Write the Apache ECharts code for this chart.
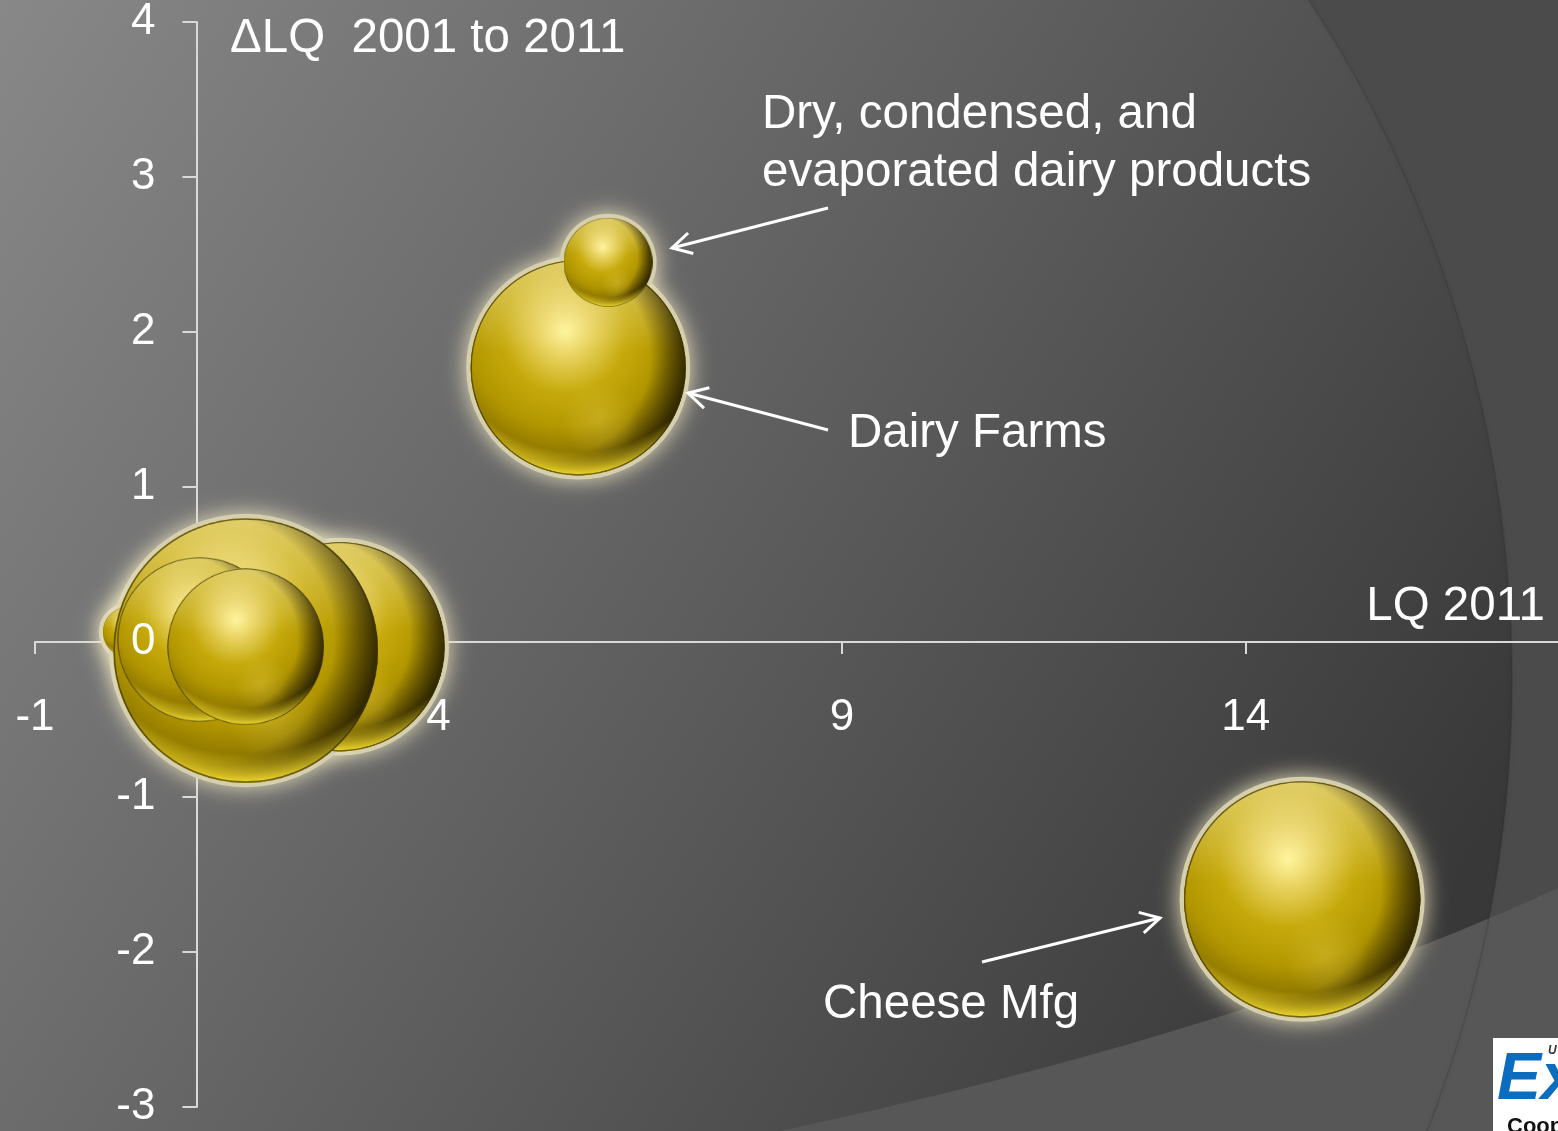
<!DOCTYPE html>
<html>
<head>
<meta charset="utf-8">
<script src="https://cdn.jsdelivr.net/npm/echarts@6/dist/echarts.min.js"></script>
<style>
html,body{margin:0;padding:0;background:#5a5a5a;overflow:hidden;}
#chart{width:1558px;height:1131px;}
</style>
</head>
<body>
<div id="chart"></div>
<script>
// ---------------- data ----------------
const industries = [
  'Dairy industry 1', 'Dairy industry 2', 'Dairy industry 3', 'Dairy industry 4',
  'Dairy industry 5', 'Dairy Farms', 'Dry, condensed, and evaporated dairy products', 'Cheese Mfg'
];
const lq2011     = [0.15, 2.78, 1.61, 1.04, 1.61, 5.73, 6.10, 14.70];
const deltaLQ    = [0.065, -0.03, -0.055, 0.016, -0.03, 1.77, 2.45, -1.66];
const bubbleSize = [625, 11000, 17600, 6800, 6150, 11650, 1980, 14050];
const xTickValues = [-1, 4, 9, 14, 19];
const yTickValues = [-3, -2, -1, 0, 1, 2, 3, 4];
const xAxisTitle = 'LQ 2011';
const yAxisTitle = 'ΔLQ  2001 to 2011';
const noteDry = 'Dry, condensed, and\nevaporated dairy products';
const noteDairy = 'Dairy Farms';
const noteCheese = 'Cheese Mfg';

// ---------------- layout / style ----------------
const W = 1558, H = 1131;
const FONT = '"Liberation Sans", Arial, Helvetica, sans-serif';
const GRID = { left: 35, top: 22, width: 1614.2, height: 1085 };
const AXIS_COLOR = '#d9d9d9';
const yAxisCross = 1; // vertical axis crosses the LQ axis at 1
const NOTE_FONT = '47.5px ' + FONT;

const xMin = xTickValues[0], xMax = xTickValues[xTickValues.length - 1];
const xInt = xTickValues[1] - xTickValues[0];
const yMin = yTickValues[0], yMax = yTickValues[yTickValues.length - 1];
const yInt = yTickValues[1] - yTickValues[0];
const pxPerX = GRID.width / (xMax - xMin);
const yAxisOffset = -(yAxisCross - xMin) * pxPerX;
const zeroFromBottom = (0 - yMin) / (yMax - yMin) * GRID.height;

const seriesData = lq2011.map((x, i) => ({ name: industries[i], value: [x, deltaLQ[i], bubbleSize[i]] }));
const sizeOf = v => Math.sqrt(v[2]) * 2;

// sphere image (styling only)
function makeSphere(S) {
  const c = document.createElement('canvas');
  c.width = c.height = S;
  const g = c.getContext('2d');
  const r = S / 2;
  g.save();
  g.beginPath(); g.arc(r, r, r - 0.5, 0, Math.PI * 2); g.clip();
  let gr = g.createRadialGradient(S * 0.44, S * 0.33, 0, S * 0.44, S * 0.33, S * 0.64);
  gr.addColorStop(0, '#fff59a');
  gr.addColorStop(0.18, '#ead462');
  gr.addColorStop(0.45, '#c6aa0c');
  gr.addColorStop(0.7, '#b39700');
  gr.addColorStop(0.9, '#8e7700');
  gr.addColorStop(1, '#6e5c00');
  g.fillStyle = gr; g.fillRect(0, 0, S, S);
  gr = g.createLinearGradient(0, 0, 0, S * 0.42);
  gr.addColorStop(0, 'rgba(255,246,200,0.5)');
  gr.addColorStop(1, 'rgba(255,246,200,0)');
  g.fillStyle = gr; g.fillRect(0, 0, S, S);
  gr = g.createRadialGradient(S * 0.37, S * 0.45, 0, S * 0.37, S * 0.45, S * 0.66);
  gr.addColorStop(0, 'rgba(28,22,0,0)');
  gr.addColorStop(0.7, 'rgba(28,22,0,0)');
  gr.addColorStop(1, 'rgba(28,22,0,0.9)');
  g.fillStyle = gr; g.fillRect(0, 0, S, S);
  gr = g.createRadialGradient(S * 0.6, S * 0.74, 0, S * 0.6, S * 0.74, S * 0.18);
  gr.addColorStop(0, 'rgba(230,205,80,0.35)');
  gr.addColorStop(1, 'rgba(230,205,80,0)');
  g.fillStyle = gr; g.fillRect(0, 0, S, S);
  gr = g.createRadialGradient(S * 0.5, S * 0.22, 0, S * 0.5, S * 0.22, S * 0.78);
  gr.addColorStop(0, 'rgba(255,226,40,0)');
  gr.addColorStop(0.86, 'rgba(255,226,40,0)');
  gr.addColorStop(1, 'rgba(255,230,50,0.95)');
  g.fillStyle = gr; g.fillRect(0, 0, S, S);
  g.restore();
  g.beginPath(); g.arc(r, r, r - S * 0.004, 0, Math.PI * 2);
  g.strokeStyle = 'rgba(60,50,0,0.7)'; g.lineWidth = S * 0.006; g.stroke();
  return c.toDataURL();
}
const sphereImg = 'image://' + makeSphere(400);

// lower background band, sampled from a quadratic curve
function quadPts(p0, p1, p2, n) {
  const pts = [];
  for (let i = 0; i <= n; i++) {
    const t = i / n, a = (1 - t) * (1 - t), b = 2 * t * (1 - t), c = t * t;
    pts.push([a * p0[0] + b * p1[0] + c * p2[0], a * p0[1] + b * p1[1] + c * p2[1]]);
  }
  return pts;
}
const bandPts = quadPts([1558, 888], [1250, 1030], [780, 1131], 40).concat([[1558, 1131]]);

// annotations (layout)
const arrows = [
  { from: [828, 208], to: [672, 248] },
  { from: [828, 430], to: [688, 393] },
  { from: [982, 962], to: [1160, 918] }
];
function arrowEls(a) {
  const [x1, y1] = a.from, [x2, y2] = a.to;
  const ang = Math.atan2(y1 - y2, x1 - x2), L = 22, sp = 0.5;
  const p1 = [x2 + L * Math.cos(ang + sp), y2 + L * Math.sin(ang + sp)];
  const p2 = [x2 + L * Math.cos(ang - sp), y2 + L * Math.sin(ang - sp)];
  return [
    { type: 'line', z: 100, silent: true, shape: { x1, y1, x2, y2 }, style: { stroke: '#ffffff', lineWidth: 3 } },
    { type: 'polyline', z: 100, silent: true, shape: { points: [p1, [x2, y2], p2] }, style: { stroke: '#ffffff', lineWidth: 3, fill: null } }
  ];
}
function textEl(text, x, y, font, align, fill, vAlign, lineHeight) {
  const st = {
    text, x, y, fill: fill || '#ffffff', font,
    align, textAlign: align, verticalAlign: vAlign || 'middle', textVerticalAlign: vAlign || 'middle'
  };
  if (lineHeight) st.lineHeight = lineHeight;
  return { type: 'text', z: 100, silent: true, style: st };
}

const graphics = [
  { type: 'rect', z: -100, silent: true, shape: { x: 0, y: 0, width: W, height: H }, style: { fill: '#4b4b4b' } },
  { type: 'circle', z: -99, silent: true, shape: { cx: 272, cy: 680, r: 1240 },
    style: { fill: { type: 'linear', x: 0, y: 0, x2: 1450, y2: 900, global: true,
      colorStops: [{ offset: 0, color: '#888888' }, { offset: 1, color: '#383838' }] } } },
  { type: 'polygon', z: -98, silent: true, shape: { points: bandPts }, style: { fill: '#575757' } },
  { type: 'circle', z: -97, silent: true, shape: { cx: 272, cy: 680, r: 1240 },
    style: { fill: null, stroke: 'rgba(0,0,0,0.1)', lineWidth: 2, shadowBlur: 10, shadowColor: 'rgba(0,0,0,0.35)' } },
  textEl(yAxisTitle, 230, 39, NOTE_FONT, 'left'),
  textEl(xAxisTitle, 1545, 607, NOTE_FONT, 'right'),
  textEl(noteDry, 762, 86, NOTE_FONT, 'left', '#ffffff', 'top', 58),
  textEl(noteDairy, 848, 434, NOTE_FONT, 'left'),
  textEl(noteCheese, 823, 1005, NOTE_FONT, 'left'),
  ...arrows.flatMap(arrowEls),
  { type: 'rect', z: 100, silent: true, shape: { x: 1493, y: 1038, width: 70, height: 100 }, style: { fill: '#ffffff' } },
  textEl('Ex', 1497, 1081, 'italic bold 66px ' + FONT, 'left', '#0b6dc0'),
  textEl('U', 1548, 1051, 'italic bold 12px ' + FONT, 'left', '#333333'),
  textEl('Coop', 1507, 1127, 'bold 22px ' + FONT, 'left', '#111111')
];

const axisLineStyle = { color: AXIS_COLOR, width: 2 };
const labelStyle = { color: '#ffffff', fontSize: 44, fontFamily: FONT };

const chart = echarts.init(document.getElementById('chart'), null, { renderer: 'canvas', width: W, height: H });
chart.setOption({
  animation: false,
  backgroundColor: '#4b4b4b',
  grid: Object.assign({ outerBoundsMode: 'none', containLabel: false }, GRID),
  graphic: { elements: graphics },
  xAxis: [
    { type: 'value', min: xMin, max: xMax, interval: xInt, z: 0,
      axisLine: { show: true, onZero: true, lineStyle: axisLineStyle },
      axisTick: { show: true, length: 12, lineStyle: axisLineStyle },
      axisLabel: { show: false }, splitLine: { show: false } },
    { type: 'value', min: xMin, max: xMax, interval: xInt, z: 5, position: 'bottom',
      offset: -zeroFromBottom,
      axisLine: { show: false, onZero: false }, axisTick: { show: false },
      axisLabel: Object.assign({ show: true, margin: 54 }, labelStyle), splitLine: { show: false } }
  ],
  yAxis: [
    { type: 'value', min: yMin, max: yMax, interval: yInt, z: 0, position: 'left', offset: yAxisOffset,
      axisLine: { show: true, onZero: false, lineStyle: axisLineStyle },
      axisTick: { show: true, length: 14, lineStyle: axisLineStyle },
      axisLabel: { show: false }, splitLine: { show: false } },
    { type: 'value', min: yMin, max: yMax, interval: yInt, z: 5, position: 'left', offset: yAxisOffset,
      axisLine: { show: false, onZero: false }, axisTick: { show: false },
      axisLabel: Object.assign({ show: true, margin: 41, padding: [9, 0, 0, 0] }, labelStyle), splitLine: { show: false } }
  ],
  series: [
    { name: 'glow', type: 'scatter', xAxisIndex: 0, yAxisIndex: 0, z: 1, silent: true,
      data: seriesData, symbol: 'circle', symbolSize: v => sizeOf(v) + 8,
      itemStyle: { color: '#d6cfae', opacity: 1, shadowBlur: 22, shadowColor: 'rgba(238,230,192,0.95)' } },
    { name: 'LQ', type: 'scatter', xAxisIndex: 0, yAxisIndex: 0, z: 2,
      data: seriesData, symbol: sphereImg, symbolSize: v => sizeOf(v),
      itemStyle: { opacity: 1 } }
  ]
});
</script>
</body>
</html>
